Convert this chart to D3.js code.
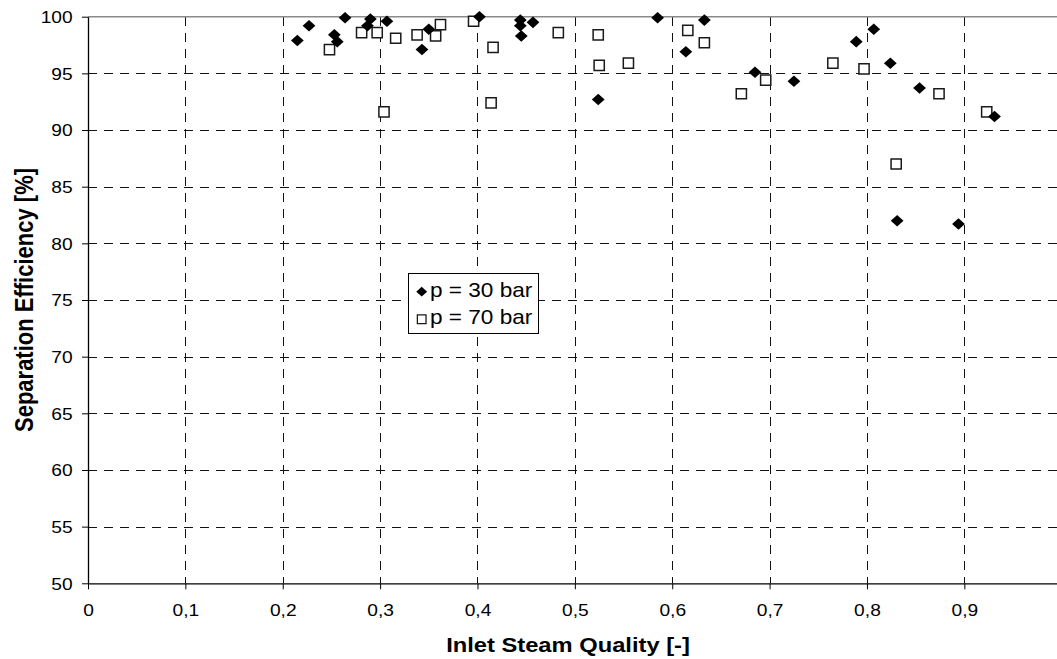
<!DOCTYPE html>
<html>
<head>
<meta charset="utf-8">
<script src="https://cdn.jsdelivr.net/npm/d3@7"></script>
<style>
  body { margin: 0; background: #fff; }
  svg { display: block; }
</style>
</head>
<body>
<div id="chart"></div>
<script>
// tick values
const xTicks = [0, 0.1, 0.2, 0.3, 0.4, 0.5, 0.6, 0.7, 0.8, 0.9];
const yTicks = [50, 55, 60, 65, 70, 75, 80, 85, 90, 95, 100];

// series: p = 30 bar (filled diamonds)
const p30X = [0.215, 0.227, 0.253, 0.256, 0.264, 0.287, 0.290, 0.307, 0.343, 0.350,
              0.402, 0.444, 0.444, 0.445, 0.457, 0.524, 0.585, 0.614, 0.633, 0.685,
              0.725, 0.789, 0.807, 0.824, 0.831, 0.854, 0.894, 0.931];
const p30Y = [97.9, 99.2, 98.4, 97.8, 99.9, 99.2, 99.8, 99.6, 97.1, 98.9,
              100.0, 99.7, 99.2, 98.3, 99.5, 92.7, 99.9, 96.9, 99.7, 95.1,
              94.3, 97.8, 98.9, 95.9, 82.0, 93.7, 81.7, 91.2];

// series: p = 70 bar (open squares)
const p70X = [0.248, 0.281, 0.297, 0.304, 0.316, 0.338, 0.357, 0.362, 0.396, 0.414,
              0.416, 0.483, 0.524, 0.525, 0.555, 0.616, 0.633, 0.671, 0.696, 0.765,
              0.797, 0.830, 0.874, 0.923];
const p70Y = [97.1, 98.6, 98.6, 91.6, 98.1, 98.4, 98.3, 99.3, 99.6, 92.4,
              97.3, 98.6, 98.4, 95.7, 95.9, 98.8, 97.7, 93.2, 94.4, 95.9,
              95.4, 87.0, 93.2, 91.6];

const seriesNames = ["p = 30 bar", "p = 70 bar"];

const width = 1057, height = 659;
const SX = 1.13; // text looks horizontally stretched in the original
const FONT = "'Liberation Sans', Arial, sans-serif";

const x = d3.scaleLinear().domain([0, 1]).range([88, 1061.7]);
const y = d3.scaleLinear().domain([50, 100]).range([583.3, 16.7]);

const svg = d3.select("#chart")
  .append("svg")
  .attr("width", width)
  .attr("height", height)
  .style("font-family", FONT);

svg.append("rect").attr("width", width).attr("height", height).attr("fill", "#fff");

const px = (v) => Math.round(v) + 0.5;

// gridlines
const grid = svg.append("g").attr("class", "grid")
  .attr("stroke", "#111")
  .attr("stroke-width", 1)
  .attr("stroke-dasharray", "9,7")
  .attr("shape-rendering", "crispEdges");

grid.selectAll("line.v")
  .data(xTicks.filter((d) => d > 0))
  .enter().append("line")
  .attr("class", "v")
  .attr("x1", (d) => px(x(d))).attr("x2", (d) => px(x(d)))
  .attr("y1", y(100)).attr("y2", y(50));

grid.selectAll("line.h")
  .data(yTicks.filter((d) => d > 50 && d < 100))
  .enter().append("line")
  .attr("class", "h")
  .attr("x1", x(0)).attr("x2", width)
  .attr("y1", (d) => px(y(d))).attr("y2", (d) => px(y(d)));

// top border of plot area
svg.append("line")
  .attr("x1", x(0)).attr("x2", width)
  .attr("y1", y(100)).attr("y2", y(100))
  .attr("stroke", "#8a8a8a")
  .attr("stroke-width", 1.5);

// axes
const xAxis = svg.append("g")
  .attr("transform", `translate(0,${y(50)})`)
  .call(d3.axisBottom(x)
    .tickValues(xTicks)
    .tickFormat((d) => (d === 0 ? "0" : d3.format(".1f")(d).replace(".", ",")))
    .tickSize(6)
    .tickSizeOuter(0));

xAxis.select(".domain").attr("stroke", "#000").attr("stroke-width", 1.3);
xAxis.selectAll(".tick line").attr("stroke", "#000");
xAxis.selectAll(".tick text")
  .attr("y", 20.5)
  .attr("dy", "0.71em")
  .attr("transform", `scale(${SX},1)`)
  .attr("fill", "#000")
  .style("font-size", "17px")
  .style("font-family", FONT);

const yAxis = svg.append("g")
  .attr("transform", `translate(${x(0)},0)`)
  .call(d3.axisLeft(y)
    .tickValues(yTicks)
    .tickSize(6)
    .tickSizeOuter(0));

yAxis.select(".domain").attr("stroke", "#000").attr("stroke-width", 1.3);
yAxis.selectAll(".tick line").attr("stroke", "#000");
yAxis.selectAll(".tick text")
  .attr("x", -15.3 / SX)
  .attr("dy", "0.35em")
  .attr("transform", `scale(${SX},1)`)
  .attr("fill", "#000")
  .style("font-size", "17px")
  .style("font-family", FONT);

// axis titles
svg.append("text")
  .attr("transform", `translate(568,652) scale(${SX},1)`)
  .attr("text-anchor", "middle")
  .style("font-size", "21px")
  .style("font-weight", "bold")
  .text("Inlet Steam Quality [-]");

svg.append("text")
  .attr("transform", `translate(33,300) scale(${SX},1) rotate(-90)`)
  .attr("text-anchor", "middle")
  .style("font-size", "22px")
  .style("font-weight", "bold")
  .text("Separation Efficiency [%]");

// marker shapes
const diamond = {
  draw(ctx, size) {
    const r = Math.sqrt(size / 2);
    ctx.moveTo(0, -r * 0.95);
    ctx.lineTo(r * 1.05, 0);
    ctx.lineTo(0, r * 0.95);
    ctx.lineTo(-r * 1.05, 0);
    ctx.closePath();
  }
};
const diamondPath = d3.symbol().type(diamond).size(74)();
const squarePath = d3.symbol().type(d3.symbolSquare).size(104)();

// p = 70 bar squares
svg.append("g").selectAll("path")
  .data(p70X.map((d, i) => [d, p70Y[i]]))
  .enter().append("path")
  .attr("d", squarePath)
  .attr("transform", (d) => `translate(${x(d[0])},${y(d[1])})`)
  .attr("fill", "#fff")
  .attr("stroke", "#1a1a1a")
  .attr("stroke-width", 1.5);

// p = 30 bar diamonds
svg.append("g").selectAll("path")
  .data(p30X.map((d, i) => [d, p30Y[i]]))
  .enter().append("path")
  .attr("d", diamondPath)
  .attr("transform", (d) => `translate(${x(d[0])},${y(d[1])})`)
  .attr("fill", "#000");

// legend
const legend = svg.append("g");
legend.append("rect")
  .attr("x", 408.5).attr("y", 273.5)
  .attr("width", 130).attr("height", 60)
  .attr("fill", "#fff")
  .attr("stroke", "#000")
  .attr("stroke-width", 1);

const legendRows = [
  { name: seriesNames[0], path: diamondPath, fill: "#000", stroke: "none", y: 291.7, base: 296.7 },
  { name: seriesNames[1], path: squarePath, fill: "#fff", stroke: "#1a1a1a", y: 319.3, base: 324.3 }
];

legendRows.forEach((r) => {
  legend.append("path")
    .attr("d", r.path)
    .attr("transform", `translate(421.7,${r.y}) scale(0.85)`)
    .attr("fill", r.fill)
    .attr("stroke", r.stroke)
    .attr("stroke-width", 1.5);
  legend.append("text")
    .attr("transform", `translate(430,${r.base}) scale(${SX},1)`)
    .style("font-size", "20px")
    .text(r.name);
});
</script>
</body>
</html>
